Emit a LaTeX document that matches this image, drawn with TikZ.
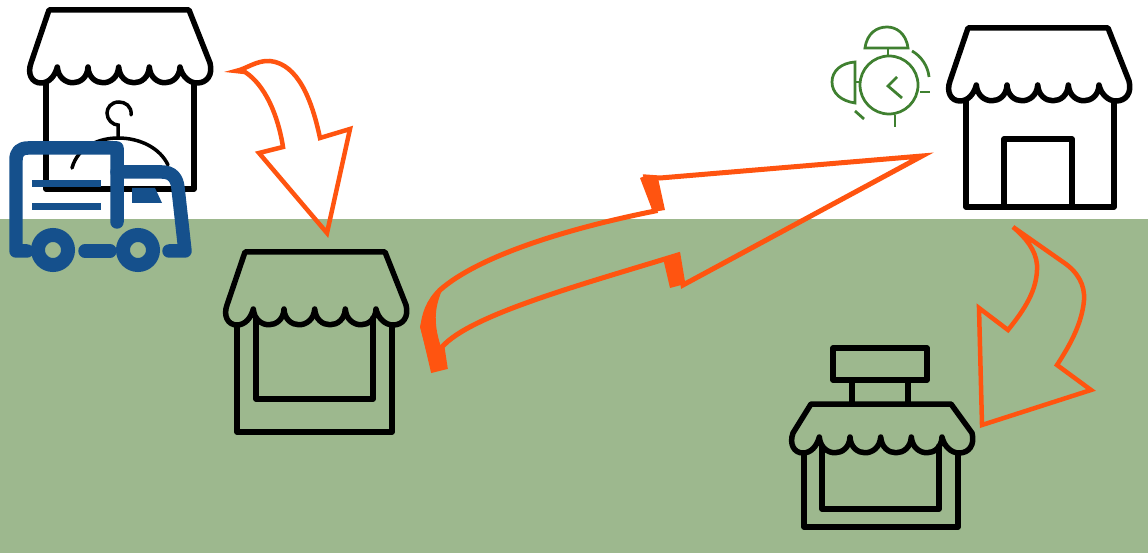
\documentclass[tikz,border=0pt]{standalone}
\usepackage{xcolor}
\definecolor{groundgreen}{HTML}{9DB88E}
\definecolor{arroworange}{HTML}{FF5410}
\definecolor{truckblue}{HTML}{15508C}
\definecolor{clockgreen}{HTML}{3F8030}
\begin{document}
\begin{tikzpicture}[x=0.02cm, y=-0.02cm,
  shopline/.style={draw=black, line width=0.11cm, line join=round, line cap=round},
  flowline/.style={draw=arroworange, line width=0.09cm, line join=miter},
  flowblock/.style={fill=arroworange},
  truckline/.style={draw=truckblue, line width=0.27cm, line join=round, line cap=round},
  truckrule/.style={draw=truckblue, line width=0.14cm},
  clockline/.style={draw=clockgreen, line width=0.055cm},
  pics/awning/.style={code={
    \draw[shopline] (0,0) -- (140,0) -- (161,#1-20)
      .. controls (164,#1-8) and (158,#1) .. (148,#1)
      .. controls (140,#1) and (133,#1-7) .. (131,#1-16)
      .. controls (130,#1+5) and (102,#1+5) .. (100.3,#1-16)
      .. controls (99,#1+5) and (71,#1+5) .. (69.7,#1-16)
      .. controls (68,#1+5) and (40,#1+5) .. (39,#1-16)
      .. controls (38,#1+5) and (10,#1+5) .. (8.3,#1-16)
      .. controls (6,#1-7) and (0,#1) .. (-8,#1)
      .. controls (-17,#1) and (-22,#1-9) .. (-18,#1-20) -- cycle;
  }}]
\useasboundingbox (0,0) rectangle (1148,553);
\fill[groundgreen] (0,219) rectangle (1148,553);
\pic at (49,10) {awning=73};
\draw[shopline] (46,83) -- (46,189) -- (194,189) -- (194,83);
\draw[black, line width=0.07cm, line cap=round] (131,115) .. controls (132,106) and (125,102) .. (119,102)
  .. controls (111,102) and (107,108) .. (107,113) .. controls (107,120) and (113,125) .. (118,125) -- (118,138);
\draw[black, line width=0.07cm, line cap=round] (72,168) .. controls (78,146) and (100,138) .. (118,138)
  .. controls (140,138) and (160,148) .. (168,165);
\pic at (245,252) {awning=73};
\draw[shopline] (237,325) -- (237,432) -- (392,432) -- (392,325);
\draw[shopline] (256,318) -- (256,399) -- (373,399) -- (373,318);
\pic at (968,28) {awning=73};
\draw[shopline] (966,101) -- (966,207) -- (1114,207) -- (1114,101);
\draw[shopline] (1004,207) -- (1004,139) -- (1072,139) -- (1072,207);
\pic at (811,404) {awning=49};
\draw[shopline] (804,453) -- (804,527) -- (958,527) -- (958,453);
\draw[shopline] (822,446) -- (822,509) -- (939,509) -- (939,446);
\draw[shopline] (833,348) rectangle (927,380);
\draw[shopline] (852,380) -- (852,404);
\draw[shopline] (908,380) -- (908,404);
\draw[flowline] (236,71) .. controls (246,69) and (257,60) .. (270,61)
  .. controls (298,64) and (312,100) .. (320,138) -- (350,129) -- (327,233) -- (259,153) -- (283,147)
  .. controls (278,115) and (265,85) .. (245,72) -- cycle;
\draw[flowline] (1013,227) -- (1063,262) .. controls (1078,272) and (1085,285) .. (1084,300)
  .. controls (1082,325) and (1068,348) .. (1057,365) -- (1091,390) -- (982,425) -- (979,308) -- (1008,330)
  .. controls (1024,310) and (1038,290) .. (1037,265) .. controls (1036,250) and (1025,237) .. (1013,227) -- cycle;
\draw[flowline, line width=0.1cm] (922,156) -- (660,178) -- (646,177) -- (655,211)
  .. controls (570,228) and (480,255) .. (440,290) .. controls (428,302) and (424,315) .. (423,327)
  -- (433,370) -- (445,367) -- (442,347) .. controls (470,315) and (580,285) .. (678,255)
  -- (683,285) -- cycle;
\fill[flowblock] (420,327) .. controls (423,312) and (430,300) .. (442,290) .. controls (436,305) and (432,320) .. (441,347) -- (447,368) -- (432,372) -- cycle;
\fill[flowblock] (640,178) -- (647,175) -- (658,178) -- (665,210) -- (653,212) -- cycle;
\fill[flowblock] (663,258) -- (678,254) -- (685,284) -- (670,288) -- cycle;
\draw[truckline] (27,251) -- (16,251) -- (16,160) .. controls (16,152) and (20,148) .. (28,148) -- (117,148) -- (117,222);
\draw[truckline] (117,172) -- (162,172) .. controls (172,172) and (177,178) .. (178,188) -- (185,251) -- (169,251);
\draw[truckline] (85,251) -- (110,251);
\draw[truckrule] (32,184) -- (101,184);
\draw[truckrule] (32,207) -- (101,207);
\fill[truckblue] (132,188) -- (155,188) -- (162,203) -- (132,203) -- cycle;
\draw[truckblue, line width=0.28cm] (53,250) circle [radius=15];
\draw[truckblue, line width=0.28cm] (138,250) circle [radius=15];
\draw[clockline] (889,85) circle [radius=29];
\draw[clockline] (865,48) -- (908,48) .. controls (906,33) and (896,27) .. (887,27) .. controls (877,27) and (867,33) .. (865,48) -- cycle;
\draw[clockline] (888,48) -- (888,56);
\draw[clockline] (855,62) -- (855,103) .. controls (841,101) and (832,93) .. (832,82) .. controls (832,71) and (841,63) .. (855,62) -- cycle;
\draw[clockline] (855,82) -- (860,82);
\draw[clockline] (897,77) -- (888,86) -- (902,98);
\draw[clockline] (912,51) .. controls (921,56) and (928,66) .. (929,77);
\draw[clockline] (920,92) -- (930,92);
\draw[clockline] (895,115) -- (895,127);
\draw[clockline] (855,111) -- (864,119);
\end{tikzpicture}
\end{document}
